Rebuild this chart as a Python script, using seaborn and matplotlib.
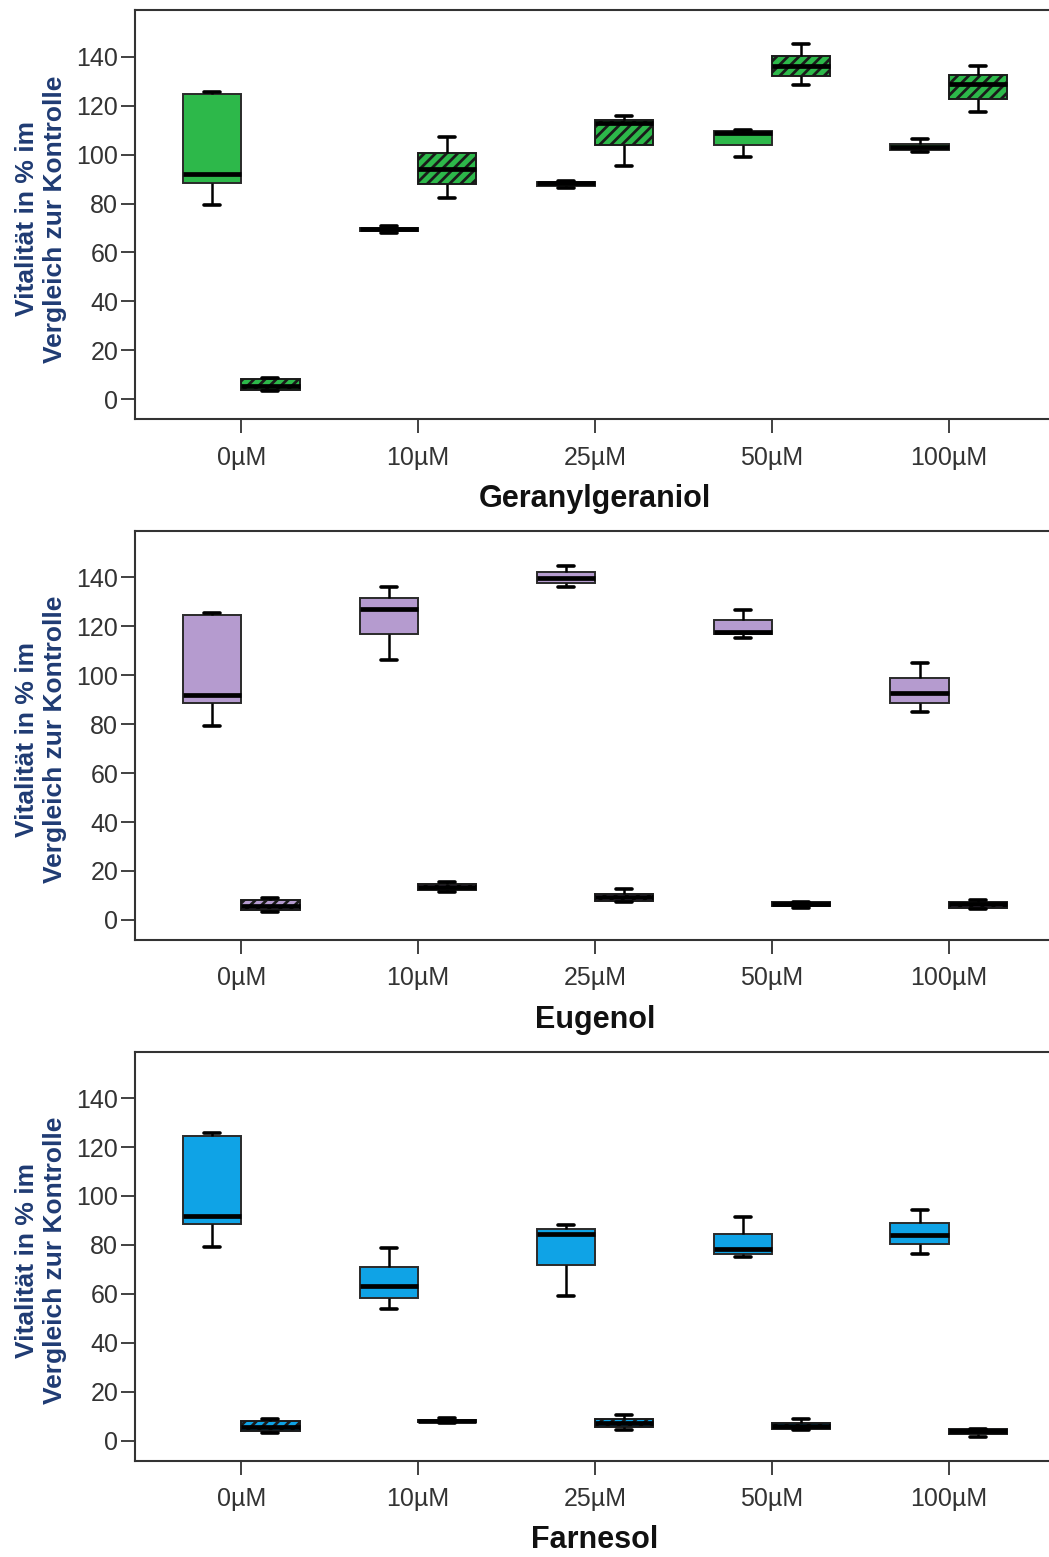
import numpy as np
import pandas as pd
import matplotlib
matplotlib.use("Agg")
import matplotlib.pyplot as plt
import seaborn as sns

# Categories
concentrations = ["0µM", "10µM", "25µM", "50µM", "100µM"]
groups = ["ohne Zusatz", "mit Zusatz"]
substances = ["Geranylgeraniol", "Eugenol", "Farnesol"]
box_colors = ["#2DB84A", "#B59BCF", "#0FA3E6"]

# Five-number summaries per concentration: [min, q1, median, q3, max]
control_plain = [79.3, 88.5, 92.0, 124.6, 125.6]
control_treated = [3.2, 3.9, 5.5, 8.2, 8.8]

gg_plain = [control_plain,
            [68.0, 68.8, 69.5, 70.2, 70.9],
            [86.2, 87.3, 88.4, 89.0, 89.4],
            [99.2, 104.1, 108.8, 109.8, 109.9],
            [101.0, 102.0, 103.1, 104.5, 106.3]]
gg_treated = [control_treated,
              [82.1, 87.8, 94.3, 100.6, 107.1],
              [95.3, 103.8, 112.9, 114.1, 115.8],
              [128.5, 132.0, 136.4, 140.5, 145.2],
              [117.5, 122.9, 128.9, 132.4, 136.1]]

eu_plain = [control_plain,
            [106.4, 116.7, 126.9, 131.5, 135.9],
            [136.0, 137.9, 139.7, 142.3, 144.8],
            [115.3, 116.7, 117.8, 122.5, 126.5],
            [84.8, 88.8, 92.8, 98.9, 105.0]]
eu_treated = [control_treated,
              [11.4, 12.1, 13.5, 14.8, 15.5],
              [7.2, 7.9, 9.3, 10.7, 12.8],
              [4.8, 5.5, 6.4, 7.3, 7.4],
              [4.5, 4.9, 6.3, 7.3, 8.2]]

fa_plain = [control_plain,
            [53.6, 58.4, 63.2, 70.8, 78.9],
            [59.1, 71.6, 84.6, 86.4, 88.0],
            [75.0, 76.2, 78.2, 84.4, 91.5],
            [76.2, 80.3, 84.1, 89.0, 94.3]]
fa_treated = [control_treated,
              [7.0, 7.6, 8.1, 8.6, 9.2],
              [4.4, 5.5, 7.3, 8.9, 10.5],
              [4.2, 4.6, 6.0, 7.1, 8.8],
              [1.6, 2.8, 3.8, 4.6, 4.7]]

series = {
    "Geranylgeraniol": (gg_plain, gg_treated),
    "Eugenol": (eu_plain, eu_treated),
    "Farnesol": (fa_plain, fa_treated),
}

rows = []
for sub, (plain, treated) in series.items():
    for grp, table in zip(groups, (plain, treated)):
        for conc, vals in zip(concentrations, table):
            for v in vals:
                rows.append({"substanz": sub, "konz": conc, "gruppe": grp, "wert": v})
df = pd.DataFrame(rows)

sns.set_theme(style="ticks")
plt.rcParams["font.family"] = ["Liberation Sans", "DejaVu Sans"]
plt.rcParams["hatch.linewidth"] = 2.0
plt.rcParams["hatch.color"] = "#1a1a1a"

fig = plt.figure(figsize=(10.49, 15.57), dpi=100)
axes_bottoms = [0.7307, 0.3963, 0.0619]
ax_left, ax_width, ax_height = 0.1287, 0.877, 0.2627
cap_half = 0.045

for sub, color, bottom in zip(substances, box_colors, axes_bottoms):
    ax = fig.add_axes([ax_left, bottom, ax_width, ax_height])
    d = df[df["substanz"] == sub]
    sns.boxplot(
        data=d, x="konz", y="wert", hue="gruppe",
        order=concentrations, hue_order=groups,
        palette={g: color for g in groups}, saturation=1,
        width=0.66, gap=0, whis=(0, 100), fliersize=0,
        linecolor="#2a2a2a", linewidth=1.4,
        medianprops=dict(color="black", linewidth=3.4),
        whiskerprops=dict(color="black", linewidth=1.8),
        capprops=dict(color="black", linewidth=2.6),
        legend=False, ax=ax,
    )

    # hatch the right-hand box of each pair
    for p in ax.patches:
        verts = p.get_path().vertices
        cx = verts[:, 0].mean()
        if cx - round(cx) > 0:
            p.set_hatch("///")
            p.set_edgecolor("#1a1a1a")

    # shorten whisker caps
    whisker_ends = set()
    for ln in ax.lines:
        x, y = np.asarray(ln.get_xdata(), float), np.asarray(ln.get_ydata(), float)
        if len(x) == 2 and x[0] == x[1]:
            whisker_ends.add((round(x[0], 4), round(y[1], 4)))
    for ln in ax.lines:
        x, y = np.asarray(ln.get_xdata(), float), np.asarray(ln.get_ydata(), float)
        if len(x) == 2 and y[0] == y[1] and x[0] != x[1]:
            c = x.mean()
            if (round(c, 4), round(y[0], 4)) in whisker_ends:
                ln.set_xdata([c - cap_half, c + cap_half])

    ax.set_xlim(-0.6, 4.6)
    ax.set_ylim(-8.2, 159)
    ax.set_yticks(np.arange(0, 141, 20))

    for side in ["top", "left", "bottom", "right"]:
        ax.spines[side].set_visible(True)
        ax.spines[side].set_color("#333333")
        ax.spines[side].set_linewidth(1.5)

    ax.tick_params(axis="both", direction="out", length=10, width=1.3,
                   color="#333333", labelsize=18, labelcolor="#333333")
    ax.tick_params(axis="y", pad=2)
    ax.tick_params(axis="x", pad=9)

    ax.set_ylabel("Vitalität in % im\nVergleich zur Kontrolle", fontsize=19,
                  fontweight="bold", color="#1F3B73", va="center", linespacing=1.2)
    ax.yaxis.set_label_coords(-0.102, 0.49)
    ax.set_xlabel(sub, fontsize=22, fontweight="bold", color="#111111", va="center")
    ax.xaxis.set_label_coords(0.5, -0.195)

fig.savefig("out.png", dpi=100, facecolor="white")
